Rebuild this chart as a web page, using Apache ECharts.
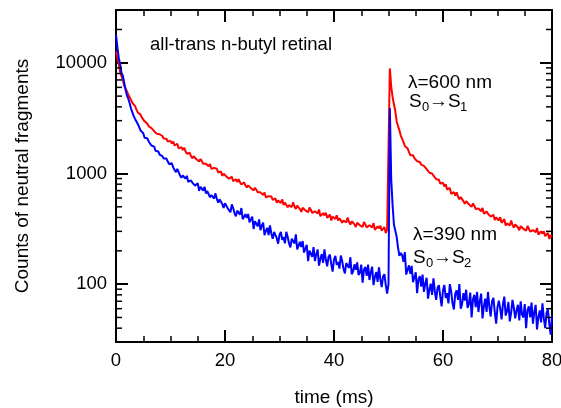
<!DOCTYPE html>
<html>
<head>
<meta charset="utf-8">
<script src="https://cdn.jsdelivr.net/npm/echarts@6/dist/echarts.min.js"></script>
<style>html,body{margin:0;padding:0;background:#fff;}#c{width:561px;height:408px;}</style>
</head>
<body>
<div id="c"></div>
<script>
// time bins: 0 .. 80 ms, one value per 0.25 ms bin
const BIN_MS = 0.25;
const xTickLabels = [0, 20, 40, 60, 80];
const yTickLabels = [100, 1000, 10000];
const yMinorTicks = [40, 50, 60, 70, 80, 90, 200, 300, 400, 500, 600, 700, 800, 900,
  2000, 3000, 4000, 5000, 6000, 7000, 8000, 9000, 20000];

// lambda = 600 nm (S0 -> S1), counts per bin
const red600 = [
  12650, 10910, 9790, 8270, 7620, 7020, 6210, 5870, 5550, 5140, 5070, 4640, 4340, 4230, 4060, 3780, 3560, 3510, 3400, 3200,
  3110, 2960, 2960, 2820, 2670, 2570, 2570, 2510, 2410, 2440, 2280, 2250, 2260, 2180, 2180, 2070, 2050, 2060, 1940, 1960,
  1970, 1865, 1945, 1790, 1830, 1855, 1685, 1715, 1730, 1625, 1710, 1585, 1505, 1550, 1540, 1440, 1370, 1430, 1435, 1345,
  1345, 1281, 1352, 1293, 1223, 1181, 1225, 1221, 1161, 1217, 1099, 1098, 1124, 1079, 1105, 1021, 1018, 1045, 952, 993,
  993, 940, 978, 897, 915, 932, 851, 871, 886, 838, 890, 832, 796, 826, 828, 779, 746, 780, 784, 737,
  738, 703, 743, 712, 675, 651, 675, 673, 640, 672, 607, 607, 623, 602, 620, 576, 578, 596, 545, 571,
  580, 542, 583, 520, 545, 564, 495, 517, 534, 497, 550, 503, 478, 511, 517, 476, 450, 489, 501, 464,
  473, 446, 492, 470, 440, 424, 455, 461, 435, 473, 411, 417, 439, 418, 441, 398, 403, 425, 376, 407,
  414, 388, 419, 375, 394, 408, 359, 375, 388, 361, 399, 365, 345, 370, 375, 347, 328, 358, 367, 340,
  347, 329, 364, 347, 326, 315, 340, 344, 326, 356, 310, 315, 333, 319, 337, 304, 309, 327, 289, 313,
  305, 8900, 6100, 4900, 4219, 3646, 2949, 2680, 2453, 2200, 2137, 1921, 1771, 1758, 1685, 1566, 1463, 1491, 1464, 1375,
  1354, 1290, 1327, 1268, 1200, 1154, 1170, 1152, 1093, 1115, 1015, 998, 1001, 955, 959, 888, 872, 879, 810, 825,
  824, 765, 800, 715, 730, 741, 655, 669, 677, 630, 676, 619, 584, 611, 610, 563, 531, 563, 567, 526,
  528, 499, 536, 510, 477, 460, 483, 483, 456, 488, 432, 435, 452, 432, 448, 407, 409, 424, 379, 400,
  404, 376, 403, 358, 373, 386, 338, 354, 365, 339, 375, 343, 324, 347, 352, 325, 307, 334, 342, 316,
  322, 304, 335, 318, 298, 287, 308, 312, 294, 321, 280, 284, 300, 286, 301, 271, 275, 290, 256, 277,
  268
];

// lambda = 390 nm (S0 -> S2), counts per bin
const blue390 = [
  18000, 13930, 11080, 9830, 8125, 7640, 6630, 5705, 5090, 4740, 4335, 3875, 3750, 3300, 3110, 3010, 2800, 2725, 2450, 2370,
  2311, 2102, 2123, 2077, 1946, 1957, 1789, 1773, 1746, 1605, 1598, 1581, 1483, 1530, 1434, 1367, 1384, 1363, 1281, 1218,
  1245, 1238, 1130, 1111, 1028, 1097, 1030, 958, 914, 958, 956, 899, 952, 840, 841, 868, 826, 855, 776, 776,
  816, 697, 758, 765, 700, 759, 661, 693, 718, 610, 637, 654, 594, 661, 589, 546, 584, 586, 529, 489,
  538, 555, 484, 496, 446, 526, 487, 436, 410, 461, 470, 425, 487, 386, 394, 429, 396, 430, 362, 369,
  408, 315, 371, 382, 333, 385, 307, 337, 360, 277, 303, 323, 278, 340, 287, 257, 296, 304, 260, 232,
  279, 297, 251, 265, 234, 297, 268, 233, 215, 257, 265, 233, 282, 206, 214, 241, 217, 245, 193, 199,
  227, 161, 201, 209, 176, 216, 162, 186, 206, 147, 169, 187, 156, 206, 166, 145, 176, 185, 151, 130,
  167, 180, 149, 159, 138, 181, 162, 137, 125, 155, 161, 140, 175, 123, 130, 151, 135, 157, 121, 127,
  150, 103, 135, 143, 119, 150, 109, 128, 144, 98, 116, 129, 105, 142, 111, 94, 117, 123, 98, 82,
  100, 3900, 880, 520, 344, 339, 268, 213, 180, 191, 183, 159, 195, 122, 126, 148, 124, 146, 104, 108,
  128, 83, 111, 118, 95, 122, 85, 101, 114, 74, 89, 101, 80, 113, 86, 72, 93, 98, 77, 63,
  88, 98, 75, 83, 67, 100, 86, 67, 59, 82, 88, 72, 100, 60, 66, 83, 71, 89, 61, 66,
  84, 50, 73, 80, 62, 85, 56, 70, 82, 49, 63, 74, 56, 85, 63, 51, 70, 75, 56, 44,
  62, 71, 60, 48, 66, 77, 52, 57, 69, 46, 55, 72, 61, 49, 58, 65, 47, 70, 53, 50,
  66, 40, 58, 63, 50, 68, 44, 56, 65, 39, 50, 58, 45, 67, 49, 40, 55, 59, 44, 35,
  52
];

const X_MIN = 0, X_MAX = 80, Y_MIN = 30, Y_MAX = 30000;
const FONT = '"Liberation Sans", Arial, sans-serif';
const chart = echarts.init(document.getElementById('c'), null, {renderer: 'canvas'});

const toPairs = arr => arr.map((v, i) => [i * BIN_MS, v]);

const baseX = {
  type: 'value', min: X_MIN, max: X_MAX, interval: 20,
  axisLine: {show: true, onZero: false, lineStyle: {color: '#000', width: 2}},
  axisTick: {show: true, inside: true, length: 12, lineStyle: {color: '#000', width: 2}},
  minorTick: {show: true, splitNumber: 4, length: 6, lineStyle: {color: '#000', width: 1.5}},
  splitLine: {show: false}, minorSplitLine: {show: false}
};
const baseY = {
  type: 'log', logBase: 10, min: Y_MIN, max: Y_MAX,
  axisLine: {show: true, onZero: false, lineStyle: {color: '#000', width: 2}},
  axisTick: {show: true, inside: true, length: 12, lineStyle: {color: '#000', width: 2}},
  splitLine: {show: false}
};

chart.setOption({
  animation: false,
  backgroundColor: '#fff',
  grid: {left: 116, right: 9, top: 10, bottom: 66, containLabel: false, outerBoundsMode: 'none'},
  xAxis: [
    Object.assign({}, baseX, {
      position: 'bottom',
      name: 'time (ms)', nameLocation: 'middle', nameGap: 46,
      nameTextStyle: {fontFamily: FONT, fontSize: 19, color: '#000'},
      axisLabel: {show: true, margin: 9, fontFamily: FONT, fontSize: 18.5, color: '#000',
        formatter: v => (xTickLabels.indexOf(v) >= 0 ? String(v) : '')}
    }),
    Object.assign({}, baseX, {position: 'top', axisLabel: {show: false}})
  ],
  yAxis: [
    Object.assign({}, baseY, {
      position: 'left',
      name: 'Counts of neutral fragments', nameLocation: 'middle', nameGap: 84, nameRotate: 90,
      nameTextStyle: {fontFamily: FONT, fontSize: 19, color: '#000'},
      axisLabel: {show: true, margin: 9, fontFamily: FONT, fontSize: 18.5, color: '#000',
        showMinLabel: false, showMaxLabel: false,
        formatter: v => { const r = Math.round(v); return yTickLabels.indexOf(r) >= 0 ? String(r) : ''; }}
    }),
    Object.assign({}, baseY, {position: 'right', axisLabel: {show: false}})
  ],
  series: [
    {
      type: 'line', name: '600 nm', data: toPairs(red600), xAxisIndex: 0, yAxisIndex: 0,
      showSymbol: false, symbol: 'none', lineStyle: {color: '#ff0000', width: 2}, z: 3, silent: true
    },
    {
      type: 'line', name: '390 nm', data: toPairs(blue390), xAxisIndex: 0, yAxisIndex: 0,
      showSymbol: false, symbol: 'none', lineStyle: {color: '#0000ff', width: 2}, z: 4, silent: true
    },
    {
      type: 'custom', xAxisIndex: 0, yAxisIndex: 0, silent: true, clip: false, z: 5,
      data: yMinorTicks.map(v => [X_MIN, v]),
      renderItem: (params, api) => {
        const v = api.value(1);
        const pL = api.coord([X_MIN, v]);
        const pR = api.coord([X_MAX, v]);
        const st = {stroke: '#000', lineWidth: 1.5};
        return {type: 'group', children: [
          {type: 'line', shape: {x1: pL[0], y1: pL[1], x2: pL[0] + 6, y2: pL[1]}, style: st},
          {type: 'line', shape: {x1: pR[0], y1: pR[1], x2: pR[0] - 6, y2: pR[1]}, style: st}
        ]};
      }
    }
  ],
  graphic: [
    {type: 'text', left: 150, top: 35, style: {text: 'all-trans n-butyl retinal', font: '18.5px ' + FONT, fill: '#000'}},
    {type: 'text', left: 408, top: 73, style: {text: 'λ=600 nm', font: '19px ' + FONT, fill: '#000'}},
    {type: 'text', left: 409, top: 92, style: {text: 'S', font: '19px ' + FONT, fill: '#000'}},
    {type: 'text', left: 422, top: 101, style: {text: '0', font: '13px ' + FONT, fill: '#000'}},
    {type: 'text', left: 429, top: 92, style: {text: '→S', font: '19px ' + FONT, fill: '#000'}},
    {type: 'text', left: 460, top: 101, style: {text: '1', font: '13px ' + FONT, fill: '#000'}},
    {type: 'text', left: 413, top: 225, style: {text: 'λ=390 nm', font: '19px ' + FONT, fill: '#000'}},
    {type: 'text', left: 413, top: 248, style: {text: 'S', font: '19px ' + FONT, fill: '#000'}},
    {type: 'text', left: 426, top: 257, style: {text: '0', font: '13px ' + FONT, fill: '#000'}},
    {type: 'text', left: 433, top: 248, style: {text: '→S', font: '19px ' + FONT, fill: '#000'}},
    {type: 'text', left: 464, top: 257, style: {text: '2', font: '13px ' + FONT, fill: '#000'}}
  ]
});
</script>
</body>
</html>
